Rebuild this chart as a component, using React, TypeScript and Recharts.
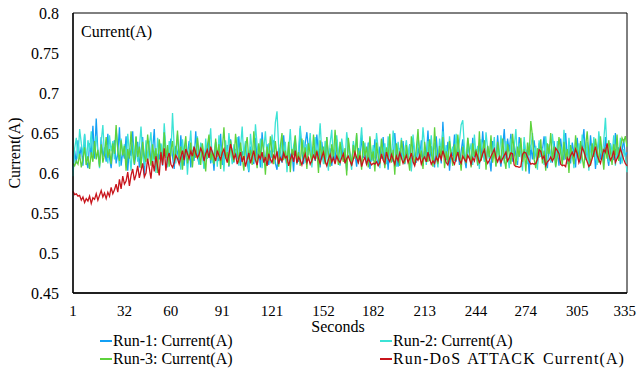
import { LineChart, Line, XAxis, YAxis, ReferenceArea } from "recharts";

const seconds = Array.from({ length: 335 }, (_, i) => i + 1);
const xTicks = [1, 32, 60, 91, 121, 152, 182, 213, 244, 274, 305, 335];
const yTicks = [0.45, 0.5, 0.55, 0.6, 0.65, 0.7, 0.75, 0.8];

const run1 = [
  0.603, 0.628, 0.612, 0.641, 0.620, 0.633, 0.609, 0.648, 0.615, 0.606, 0.637, 0.622, 0.659, 0.618, 0.668, 0.626, 0.611, 0.645, 0.620, 0.632,
  0.614, 0.649, 0.619, 0.606, 0.630, 0.641, 0.612, 0.624, 0.657, 0.609, 0.627, 0.618, 0.646, 0.603, 0.631, 0.621, 0.652, 0.610, 0.624, 0.639,
  0.607, 0.628, 0.645, 0.598, 0.633, 0.616, 0.640, 0.612, 0.629, 0.655, 0.604, 0.622, 0.617, 0.636, 0.609, 0.651, 0.619, 0.627, 0.611, 0.643,
  0.620, 0.605, 0.634, 0.626, 0.613, 0.647, 0.618, 0.609, 0.631, 0.623, 0.640, 0.607, 0.629, 0.615, 0.652, 0.620, 0.611, 0.637, 0.625, 0.606,
  0.632, 0.618, 0.644, 0.612, 0.628, 0.603, 0.639, 0.621, 0.615, 0.649, 0.610, 0.626, 0.619, 0.635, 0.608, 0.642, 0.624, 0.613, 0.630, 0.617,
  0.646, 0.609, 0.627, 0.620, 0.638, 0.614, 0.601, 0.633, 0.622, 0.611, 0.644, 0.618, 0.629, 0.607, 0.651, 0.623, 0.615, 0.636, 0.610, 0.628,
  0.619, 0.641, 0.612, 0.604, 0.632, 0.625, 0.613, 0.647, 0.620, 0.609, 0.635, 0.618, 0.627, 0.602, 0.640, 0.621, 0.614, 0.656, 0.626, 0.611,
  0.637, 0.651, 0.628, 0.644, 0.619, 0.633, 0.615, 0.648, 0.625, 0.607, 0.639, 0.620, 0.613, 0.645, 0.618, 0.631, 0.609, 0.626, 0.614, 0.642,
  0.622, 0.610, 0.634, 0.617, 0.628, 0.603, 0.640, 0.621, 0.612, 0.636, 0.624, 0.608, 0.631, 0.616, 0.647, 0.619, 0.627, 0.611, 0.638, 0.605,
  0.626, 0.615, 0.642, 0.620, 0.609, 0.633, 0.618, 0.645, 0.612, 0.629, 0.604, 0.637, 0.621, 0.614, 0.650, 0.623, 0.608, 0.631, 0.617, 0.640,
  0.611, 0.627, 0.619, 0.636, 0.606, 0.644, 0.622, 0.613, 0.632, 0.618, 0.641, 0.609, 0.628, 0.620, 0.653, 0.615, 0.634, 0.624, 0.607, 0.646,
  0.619, 0.630, 0.612, 0.664, 0.625, 0.616, 0.639, 0.603, 0.628, 0.621, 0.648, 0.614, 0.633, 0.610, 0.627, 0.642, 0.618, 0.606, 0.635, 0.622,
  0.613, 0.644, 0.620, 0.629, 0.609, 0.638, 0.617, 0.652, 0.624, 0.611, 0.634, 0.619, 0.602, 0.640, 0.626, 0.615, 0.647, 0.621, 0.608, 0.631,
  0.655, 0.618, 0.643, 0.627, 0.649, 0.614, 0.636, 0.622, 0.610, 0.645, 0.625, 0.612, 0.639, 0.619, 0.630, 0.599, 0.633, 0.617, 0.641, 0.623,
  0.611, 0.637, 0.620, 0.628, 0.646, 0.615, 0.606, 0.634, 0.621, 0.613, 0.640, 0.618, 0.627, 0.609, 0.643, 0.624, 0.616, 0.650, 0.619, 0.631,
  0.612, 0.638, 0.625, 0.607, 0.644, 0.620, 0.614, 0.633, 0.655, 0.618, 0.629, 0.611, 0.647, 0.622, 0.636, 0.605, 0.626, 0.641, 0.617, 0.630,
  0.614, 0.645, 0.621, 0.609, 0.637, 0.624, 0.616, 0.650, 0.619, 0.632, 0.611, 0.628, 0.642, 0.620, 0.626,
];

const run2 = [
  0.596, 0.631, 0.644, 0.618, 0.655, 0.637, 0.622, 0.649, 0.610, 0.641, 0.628, 0.652, 0.619, 0.633, 0.646, 0.625, 0.606, 0.639, 0.660, 0.621,
  0.634, 0.612, 0.647, 0.627, 0.640, 0.617, 0.654, 0.630, 0.608, 0.643, 0.622, 0.636, 0.611, 0.649, 0.626, 0.603, 0.638, 0.620, 0.645, 0.614,
  0.632, 0.658, 0.623, 0.609, 0.641, 0.616, 0.635, 0.651, 0.613, 0.628, 0.600, 0.644, 0.624, 0.637, 0.618, 0.662, 0.629, 0.607, 0.640, 0.621,
  0.675, 0.633, 0.612, 0.648, 0.626, 0.604, 0.642, 0.619, 0.637, 0.598, 0.629, 0.653, 0.615, 0.634, 0.622, 0.646, 0.610, 0.638, 0.627, 0.605,
  0.643, 0.618, 0.631, 0.656, 0.613, 0.625, 0.639, 0.608, 0.647, 0.621, 0.633, 0.602, 0.641, 0.616, 0.650, 0.628, 0.611, 0.636, 0.620, 0.645,
  0.609, 0.632, 0.658, 0.617, 0.640, 0.624, 0.603, 0.649, 0.627, 0.614, 0.661, 0.635, 0.618, 0.643, 0.606, 0.630, 0.652, 0.621, 0.637, 0.612,
  0.648, 0.626, 0.663, 0.677, 0.632, 0.615, 0.644, 0.620, 0.639, 0.601, 0.628, 0.655, 0.617, 0.634, 0.646, 0.610, 0.630, 0.659, 0.624, 0.641,
  0.613, 0.636, 0.622, 0.650, 0.607, 0.629, 0.645, 0.618, 0.633, 0.662, 0.625, 0.611, 0.640, 0.620, 0.603, 0.637, 0.654, 0.616, 0.631, 0.647,
  0.622, 0.609, 0.643, 0.628, 0.613, 0.651, 0.634, 0.619, 0.604, 0.640, 0.626, 0.648, 0.615, 0.632, 0.657, 0.621, 0.638, 0.610, 0.627, 0.644,
  0.614, 0.635, 0.618, 0.650, 0.630, 0.606, 0.642, 0.623, 0.637, 0.611, 0.646, 0.625, 0.617, 0.653, 0.632, 0.608, 0.639, 0.621, 0.644, 0.613,
  0.629, 0.641, 0.618, 0.636, 0.602, 0.648, 0.626, 0.614, 0.645, 0.631, 0.620, 0.657, 0.634, 0.610, 0.640, 0.624, 0.647, 0.616, 0.638, 0.622,
  0.607, 0.643, 0.628, 0.652, 0.619, 0.635, 0.611, 0.646, 0.623, 0.633, 0.615, 0.649, 0.627, 0.640, 0.660, 0.666, 0.631, 0.613, 0.644, 0.625,
  0.637, 0.610, 0.648, 0.621, 0.634, 0.605, 0.642, 0.626, 0.614, 0.651, 0.630, 0.618, 0.639, 0.623, 0.645, 0.609, 0.633, 0.620, 0.647, 0.628,
  0.612, 0.640, 0.624, 0.606, 0.643, 0.619, 0.632, 0.655, 0.615, 0.637, 0.627, 0.603, 0.645, 0.622, 0.611, 0.638, 0.629, 0.650, 0.617, 0.634,
  0.604, 0.641, 0.620, 0.631, 0.610, 0.646, 0.624, 0.636, 0.613, 0.649, 0.628, 0.607, 0.640, 0.621, 0.633, 0.615, 0.654, 0.626, 0.611, 0.644,
  0.619, 0.630, 0.606, 0.642, 0.623, 0.637, 0.612, 0.648, 0.627, 0.616, 0.639, 0.603, 0.634, 0.620, 0.645, 0.625, 0.610, 0.652, 0.631, 0.618,
  0.641, 0.669, 0.627, 0.614, 0.636, 0.622, 0.647, 0.609, 0.633, 0.619, 0.644, 0.612, 0.630, 0.621, 0.601,
];

const run3 = [
  0.612, 0.609, 0.615, 0.611, 0.624, 0.607, 0.618, 0.632, 0.610, 0.621, 0.605, 0.626, 0.614, 0.640, 0.617, 0.629, 0.608, 0.636, 0.613, 0.623,
  0.645, 0.619, 0.630, 0.611, 0.637, 0.624, 0.660, 0.628, 0.615, 0.641, 0.622, 0.634, 0.603, 0.630, 0.618, 0.652, 0.625, 0.611, 0.646, 0.620,
  0.633, 0.606, 0.639, 0.621, 0.614, 0.648, 0.627, 0.609, 0.636, 0.617, 0.631, 0.600, 0.642, 0.624, 0.613, 0.651, 0.619, 0.635, 0.608, 0.628,
  0.640, 0.615, 0.626, 0.653, 0.618, 0.633, 0.604, 0.629, 0.646, 0.612, 0.623, 0.638, 0.607, 0.631, 0.619, 0.644, 0.625, 0.610, 0.637, 0.621,
  0.602, 0.634, 0.648, 0.616, 0.627, 0.611, 0.643, 0.620, 0.636, 0.605, 0.630, 0.657, 0.618, 0.626, 0.609, 0.641, 0.622, 0.614, 0.649, 0.628,
  0.613, 0.638, 0.620, 0.603, 0.632, 0.645, 0.617, 0.629, 0.610, 0.652, 0.624, 0.606, 0.637, 0.619, 0.642, 0.627, 0.598, 0.633, 0.615, 0.646,
  0.625, 0.611, 0.640, 0.621, 0.608, 0.634, 0.650, 0.616, 0.628, 0.612, 0.639, 0.601, 0.630, 0.622, 0.647, 0.614, 0.626, 0.609, 0.643, 0.618,
  0.632, 0.605, 0.637, 0.624, 0.613, 0.648, 0.620, 0.629, 0.600, 0.641, 0.617, 0.633, 0.611, 0.645, 0.623, 0.608, 0.636, 0.619, 0.654, 0.627,
  0.610, 0.639, 0.622, 0.614, 0.631, 0.597, 0.644, 0.625, 0.609, 0.635, 0.618, 0.650, 0.612, 0.628, 0.604, 0.640, 0.621, 0.633, 0.607, 0.646,
  0.616, 0.627, 0.602, 0.638, 0.620, 0.611, 0.643, 0.624, 0.606, 0.632, 0.618, 0.649, 0.613, 0.629, 0.598, 0.637, 0.622, 0.609, 0.641, 0.626,
  0.612, 0.635, 0.619, 0.603, 0.646, 0.623, 0.610, 0.631, 0.655, 0.617, 0.628, 0.605, 0.639, 0.621, 0.614, 0.642, 0.626, 0.608, 0.657, 0.620,
  0.611, 0.634, 0.618, 0.645, 0.606, 0.627, 0.613, 0.640, 0.622, 0.609, 0.636, 0.616, 0.648, 0.625, 0.603, 0.633, 0.619, 0.612, 0.644, 0.628,
  0.607, 0.637, 0.621, 0.630, 0.610, 0.652, 0.615, 0.626, 0.641, 0.604, 0.634, 0.620, 0.647, 0.613, 0.629, 0.608, 0.639, 0.623, 0.616, 0.643,
  0.618, 0.605, 0.636, 0.624, 0.611, 0.649, 0.627, 0.609, 0.633, 0.620, 0.644, 0.614, 0.630, 0.602, 0.638, 0.622, 0.665, 0.646, 0.617, 0.606,
  0.631, 0.619, 0.642, 0.612, 0.628, 0.603, 0.637, 0.624, 0.650, 0.615, 0.633, 0.608, 0.621, 0.645, 0.626, 0.610, 0.639, 0.617, 0.630, 0.600,
  0.635, 0.622, 0.611, 0.647, 0.626, 0.614, 0.640, 0.619, 0.606, 0.633, 0.652, 0.624, 0.609, 0.637, 0.620, 0.643, 0.628, 0.613, 0.646, 0.625,
  0.604, 0.632, 0.618, 0.641, 0.627, 0.610, 0.636, 0.622, 0.648, 0.615, 0.630, 0.644, 0.639, 0.646, 0.633,
];

const runDos = [
  0.577, 0.573, 0.574, 0.571, 0.572, 0.566, 0.570, 0.563, 0.568, 0.565, 0.571, 0.562, 0.569, 0.567, 0.574, 0.566, 0.572, 0.578, 0.570, 0.575,
  0.568, 0.576, 0.571, 0.582, 0.574, 0.579, 0.586, 0.576, 0.592, 0.580, 0.596, 0.586, 0.590, 0.601, 0.584, 0.597, 0.605, 0.591, 0.598, 0.609,
  0.594, 0.603, 0.612, 0.595, 0.600, 0.618, 0.606, 0.593, 0.615, 0.602, 0.621, 0.608, 0.597, 0.626, 0.610, 0.631, 0.603, 0.619, 0.625, 0.611,
  0.607, 0.613, 0.622, 0.618, 0.611, 0.620, 0.628, 0.616, 0.630, 0.624, 0.618, 0.627, 0.621, 0.633, 0.625, 0.619, 0.623, 0.631, 0.626, 0.615,
  0.624, 0.629, 0.619, 0.633, 0.626, 0.621, 0.615, 0.628, 0.622, 0.617, 0.625, 0.630, 0.620, 0.613, 0.624, 0.636, 0.627, 0.618, 0.623, 0.611,
  0.619, 0.626, 0.614, 0.621, 0.608, 0.617, 0.625, 0.612, 0.620, 0.628, 0.616, 0.610, 0.622, 0.618, 0.626, 0.613, 0.620, 0.609, 0.624, 0.617,
  0.613, 0.622, 0.618, 0.627, 0.611, 0.619, 0.615, 0.625, 0.619, 0.621, 0.609, 0.617, 0.623, 0.614, 0.628, 0.612, 0.620, 0.616, 0.610, 0.618,
  0.624, 0.613, 0.619, 0.611, 0.616, 0.622, 0.617, 0.627, 0.618, 0.612, 0.620, 0.626, 0.615, 0.609, 0.617, 0.623, 0.614, 0.619, 0.611, 0.621,
  0.616, 0.613, 0.619, 0.624, 0.612, 0.618, 0.621, 0.615, 0.610, 0.617, 0.626, 0.619, 0.613, 0.622, 0.608, 0.615, 0.620, 0.611, 0.618, 0.614,
  0.610, 0.612, 0.611, 0.614, 0.609, 0.613, 0.624, 0.616, 0.612, 0.626, 0.618, 0.614, 0.623, 0.617, 0.611, 0.621, 0.615, 0.625, 0.619, 0.612,
  0.617, 0.622, 0.613, 0.618, 0.625, 0.614, 0.609, 0.619, 0.616, 0.622, 0.611, 0.617, 0.620, 0.614, 0.626, 0.618, 0.611, 0.615, 0.612, 0.620,
  0.615, 0.623, 0.617, 0.628, 0.621, 0.613, 0.610, 0.618, 0.624, 0.615, 0.611, 0.619, 0.626, 0.616, 0.612, 0.621, 0.617, 0.614, 0.622, 0.618,
  0.611, 0.619, 0.615, 0.626, 0.620, 0.613, 0.617, 0.624, 0.629, 0.618, 0.612, 0.616, 0.621, 0.625, 0.630, 0.619, 0.614, 0.620, 0.613, 0.618,
  0.622, 0.626, 0.615, 0.619, 0.625, 0.624, 0.610, 0.608, 0.608, 0.607, 0.608, 0.623, 0.626, 0.625, 0.620, 0.615, 0.611, 0.612, 0.611, 0.612,
  0.617, 0.629, 0.627, 0.618, 0.621, 0.609, 0.614, 0.616, 0.620, 0.615, 0.619, 0.631, 0.628, 0.624, 0.611, 0.609, 0.610, 0.608, 0.619, 0.615,
  0.622, 0.626, 0.621, 0.630, 0.624, 0.613, 0.619, 0.632, 0.627, 0.620, 0.614, 0.608, 0.611, 0.618, 0.625, 0.633, 0.622, 0.617, 0.612, 0.621,
  0.629, 0.626, 0.637, 0.624, 0.616, 0.620, 0.628, 0.613, 0.618, 0.622, 0.631, 0.624, 0.617, 0.612, 0.609,
];

const series = [
  { key: "run1", name: "Run-1: Current(A)", color: "#13a0f5" },
  { key: "run2", name: "Run-2: Current(A)", color: "#3ce3d6" },
  { key: "run3", name: "Run-3: Current(A)", color: "#5ed23c" },
  { key: "dos", name: "Run-DoS ATTACK Current(A)", color: "#c8141b" },
];

const data = seconds.map((s, i) => ({
  sec: s,
  run1: run1[i],
  run2: run2[i],
  run3: run3[i],
  dos: runDos[i],
}));

const font = '"Liberation Serif", "Times New Roman", serif';
const yTickStyle = { fontSize: 16, fill: "#000", fontFamily: font };

const lastSec = xTicks[xTicks.length - 1];

// last label is pulled in so it stays inside the frame
const XTick = (props: any) => {
  const { x, y, payload } = props;
  const isLast = payload.value === lastSec;
  return (
    <text
      x={isLast ? x + 9 : x}
      y={y}
      dy="0.71em"
      textAnchor={isLast ? "end" : "middle"}
      fontSize={15}
      fontFamily={font}
      fill="#000"
    >
      {payload.value}
    </text>
  );
};

// legend slots: Run-1 / Run-2 on the first row, Run-3 / DoS on the second
const legendPos = [
  { left: 100, top: 341 },
  { left: 380, top: 341 },
  { left: 100, top: 359 },
  { left: 380, top: 359 },
];

export default function App() {
  return (
    <div
      style={{
        position: "absolute",
        left: 0,
        top: 0,
        width: 637,
        height: 371,
        background: "#fff",
        fontFamily: font,
        color: "#000",
      }}
    >
      <LineChart
        width={637}
        height={371}
        data={data}
        margin={{ top: 13, right: 10, bottom: 48, left: 0 }}
      >
        <XAxis
          dataKey="sec"
          type="number"
          domain={[1, 335]}
          ticks={xTicks}
          interval={0}
          height={30}
          tickLine={false}
          tickSize={6}
          tickMargin={6}
          axisLine={{ stroke: "#000", strokeWidth: 1.3 }}
          tick={<XTick />}
        />
        <YAxis
          type="number"
          domain={[0.45, 0.8]}
          ticks={yTicks}
          interval={0}
          width={73}
          tickLine={false}
          tickSize={7}
          tickMargin={7}
          axisLine={{ stroke: "#000", strokeWidth: 1.3 }}
          tick={yTickStyle}
        />
        <ReferenceArea
          x1={1}
          x2={335}
          y1={0.45}
          y2={0.8}
          fill="none"
          stroke="#000"
          strokeWidth={1}
          ifOverflow="visible"
        />
        {series.map((s) => (
          <Line
            key={s.key}
            type="linear"
            dataKey={s.key}
            name={s.name}
            stroke={s.color}
            strokeWidth={1.3}
            dot={false}
            activeDot={false}
            isAnimationActive={false}
          />
        ))}
      </LineChart>

      {/* in-plot caption */}
      <div style={{ position: "absolute", left: 81, top: 23, fontSize: 16, lineHeight: "18px" }}>
        Current(A)
      </div>

      {/* y axis title */}
      <div
        style={{
          position: "absolute",
          left: 15,
          top: 153,
          fontSize: 16,
          lineHeight: "18px",
          whiteSpace: "nowrap",
          transform: "translate(-50%, -50%) rotate(-90deg)",
        }}
      >
        Current(A)
      </div>

      {/* x axis title */}
      <div
        style={{
          position: "absolute",
          left: 338,
          top: 319,
          fontSize: 16,
          lineHeight: "16px",
          transform: "translateX(-50%)",
        }}
      >
        Seconds
      </div>

      {series.map((s, i) => (
        <div
          key={s.key}
          style={{
            position: "absolute",
            left: legendPos[i].left,
            top: legendPos[i].top - 9,
            height: 18,
            display: "flex",
            alignItems: "center",
            fontSize: 16,
            whiteSpace: "nowrap",
            wordSpacing: s.key === "dos" ? 2 : 0,
            letterSpacing: s.key === "dos" ? 1.1 : 0,
          }}
        >
          <span
            style={{
              display: "inline-block",
              width: 12,
              height: 1.5,
              background: s.color,
              marginRight: 1,
            }}
          />
          {s.name}
        </div>
      ))}
    </div>
  );
}
